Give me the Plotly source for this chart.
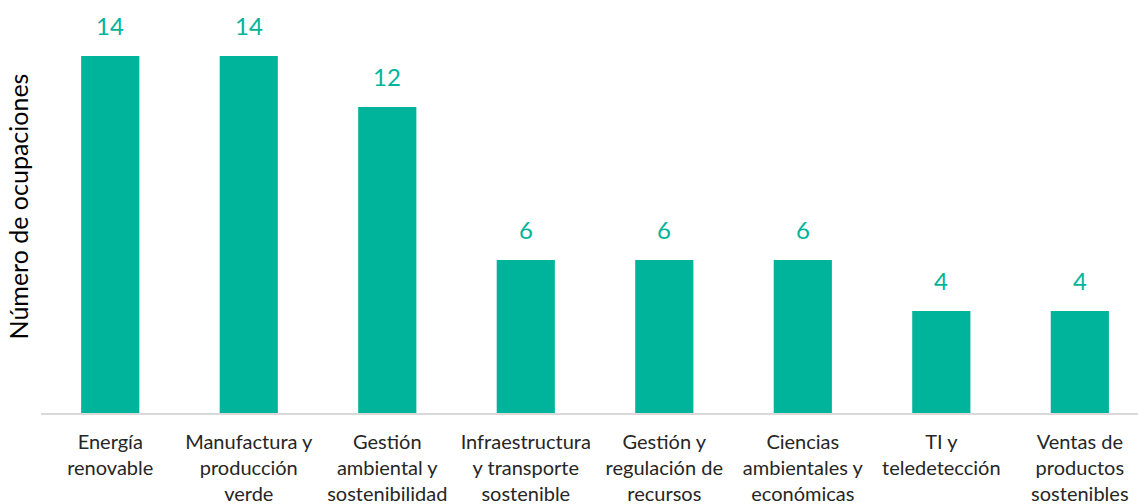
import plotly.graph_objects as go

categories = [
    "Energía<br>renovable",
    "Manufactura y<br>producción<br>verde",
    "Gestión<br>ambiental y<br>sostenibilidad",
    "Infraestructura<br>y transporte<br>sostenible",
    "Gestión y<br>regulación de<br>recursos",
    "Ciencias<br>ambientales y<br>económicas",
    "TI y<br>teledetección",
    "Ventas de<br>productos<br>sostenibles",
]
values = [14, 14, 12, 6, 6, 6, 4, 4]
y_title = "Número de ocupaciones"

teal = "#00B49C"
font_family = "Lato, 'Noto Sans', sans-serif"

fig = go.Figure()
fig.add_trace(go.Bar(
    x=list(range(len(categories))),
    y=values,
    marker=dict(color=teal, line=dict(width=0)),
    width=0.42,
    hoverinfo="skip",
))

for i, v in enumerate(values):
    fig.add_annotation(
        x=i, y=v, text=str(v), showarrow=False,
        yanchor="bottom", yshift=14,
        font=dict(family=font_family, size=24, color=teal),
    )

fig.update_layout(
    width=1138, height=504,
    margin=dict(l=41, r=0, t=0, b=91),
    paper_bgcolor="white", plot_bgcolor="white",
    showlegend=False,
    font=dict(family=font_family, size=20, color="#262626"),
)
fig.update_xaxes(
    tickmode="array",
    tickvals=list(range(len(categories))),
    ticktext=categories,
    range=[-0.5, 7.42],
    showgrid=False, zeroline=False,
    showline=True, linecolor="#D9D9D9", linewidth=1.5,
    ticks="", tickangle=0,
    ticklabelstandoff=10,
    tickfont=dict(family=font_family, size=20, color="#262626"),
)
fig.update_yaxes(
    range=[0, 16.2],
    showgrid=False, zeroline=False, showline=False,
    showticklabels=False, ticks="",
    title=dict(text=y_title, font=dict(family=font_family, size=25, color="#000000"), standoff=4),
)

fig.write_html(
    "out.html",
    config={"displayModeBar": False},
    post_script="document.body.style.margin='0';document.body.style.overflow='hidden';",
)
